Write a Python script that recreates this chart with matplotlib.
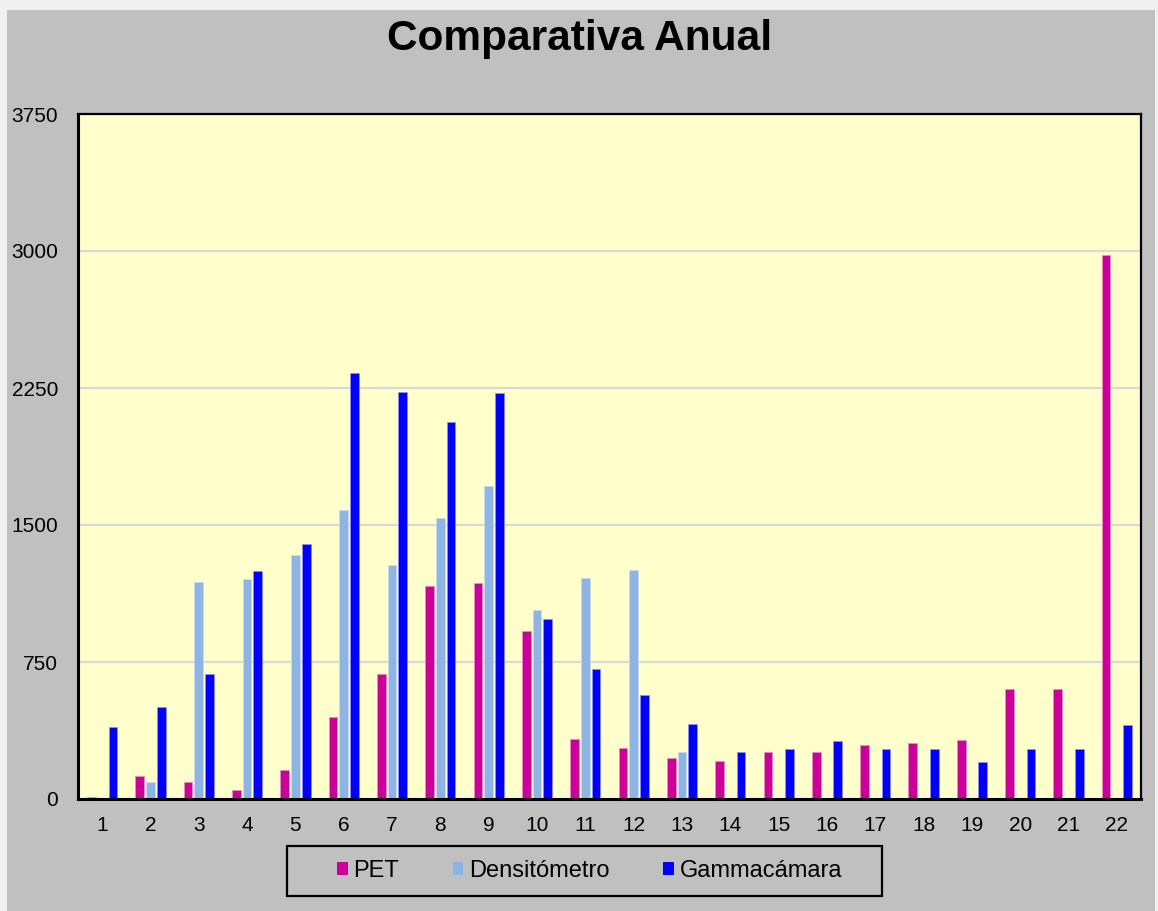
import numpy as np
import matplotlib.pyplot as plt
from matplotlib.patches import Rectangle, Patch

plt.rcParams['font.family'] = ['Liberation Sans', 'DejaVu Sans']

# data
categorias = [str(i) for i in range(1, 23)]
pet = [10, 127, 91, 51, 158, 449, 686, 1165, 1185, 919, 328,
       278, 227, 209, 257, 255, 295, 308, 324, 602, 602, 2980]
densitometro = [np.nan, 93, 1190, 1203, 1334, 1583, 1280, 1540, 1716, 1034, 1212,
                1252, 255, np.nan, np.nan, np.nan, np.nan, np.nan, np.nan, np.nan, np.nan, np.nan]
gammacamara = [395, 504, 684, 1247, 1394, 2332, 2230, 2064, 2222, 983, 711,
               570, 411, 258, 275, 315, 275, 275, 200, 275, 275, 407]
series = ['PET', 'Densitómetro', 'Gammacámara']
yticks = [0, 750, 1500, 2250, 3000, 3750]

colores = ['#CC0099', '#8EB4E3', '#0000FF']
bordes = ['#E68CCB', '#C9DAF0', '#8C8CFF']

W, H = 1158, 911
fig = plt.figure(figsize=(W / 100, H / 100), dpi=100, facecolor='#F0F0F0')
# grey chart area
fig.patches.append(Rectangle((7 / W, 0), (1155 - 7) / W, (H - 10) / H,
                             transform=fig.transFigure, facecolor='#C0C0C0',
                             edgecolor='none', zorder=-10))

ax = fig.add_axes([78 / W, 1 - 799 / H, (1141 - 78) / W, (799 - 114) / H])
ax.set_facecolor('#FFFFCC')

x = np.arange(1, len(categorias) + 1)
ancho = 0.18
paso = 0.222
handles = []
for i, (vals, nombre) in enumerate(zip([pet, densitometro, gammacamara], series)):
    ax.bar(x + (i - 1) * paso, vals, width=ancho, color=colores[i],
           edgecolor=bordes[i], linewidth=0.6, zorder=3)
    handles.append(Patch(facecolor=colores[i], edgecolor='none', label=nombre))

ax.set_xlim(0.5, len(categorias) + 0.5)
ax.set_ylim(0, 3750)
ax.set_yticks(yticks)
ax.set_xticks(x)
ax.set_xticklabels(categorias)
ax.tick_params(axis='y', length=0, pad=14.4, labelsize=15)
ax.tick_params(axis='x', length=0, pad=12, labelsize=15)
ax.yaxis.grid(True, color='#D9D9D9', linewidth=1.6, zorder=1)
ax.set_axisbelow(True)
for side in ['left', 'bottom']:
    ax.spines[side].set_linewidth(2.2)
for side in ['top', 'right']:
    ax.spines[side].set_linewidth(1.6)
for s in ax.spines.values():
    s.set_color('black')
    s.set_zorder(5)

fig.text(580 / W, 1 - 50 / H, 'Comparativa Anual', ha='center', va='baseline',
         fontsize=30.5, fontweight='bold')

# legend box
fig.patches.append(Rectangle((287 / W, 1 - 896 / H), (882 - 287) / W, 50 / H,
                             transform=fig.transFigure, facecolor='#C0C0C0',
                             edgecolor='black', linewidth=1.6, zorder=1))
fig.legend(handles=handles, loc='center', ncol=3, mode='expand', frameon=False,
           bbox_to_anchor=(337 / W, 1 - 890 / H, (842 - 337) / W, 38 / H),
           bbox_transform=fig.transFigure, borderpad=0, borderaxespad=0,
           handlelength=0.45, handleheight=0.45, handletextpad=0.25,
           fontsize=17)

plt.savefig('out.png', dpi=100, facecolor=fig.get_facecolor())
